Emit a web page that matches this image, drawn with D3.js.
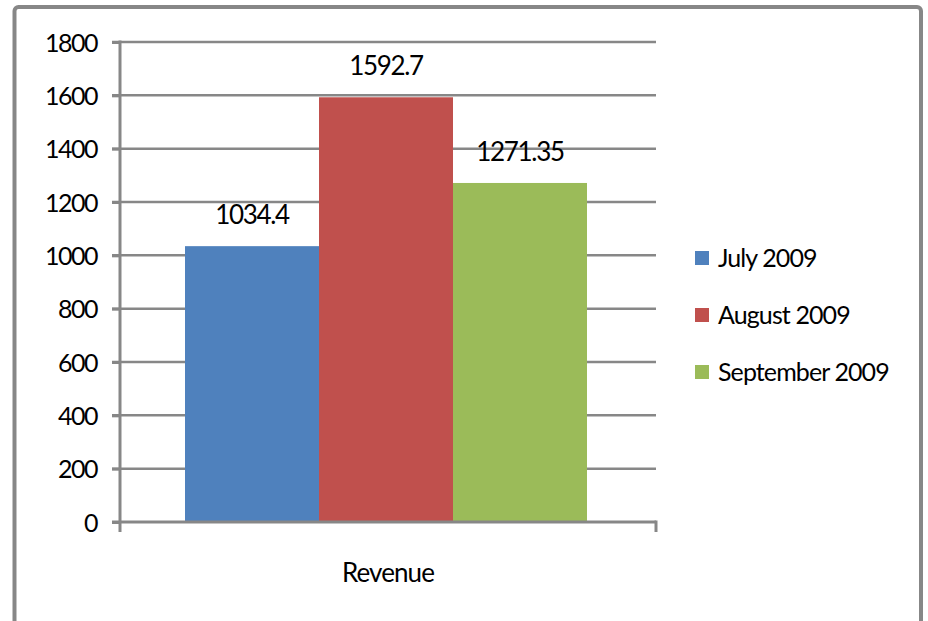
<!DOCTYPE html>
<html>
<head>
<meta charset="utf-8">
<script src="https://cdn.jsdelivr.net/npm/d3@7"></script>
<style>
  body { margin: 0; background: #fff; }
  text { font-family: Lato, "Open Sans", sans-serif; fill: #000; }
</style>
</head>
<body>
<div id="chart"></div>
<script>
// values
const categories = ['Revenue'];
const seriesNames = ['July 2009', 'August 2009', 'September 2009'];
const seriesValues = [1034.4, 1592.7, 1271.35];
const seriesLabels = ['1034.4', '1592.7', '1271.35'];
const yTicks = [0, 200, 400, 600, 800, 1000, 1200, 1400, 1600, 1800];
const colors = ['#4f81bd', '#c0504d', '#9bbb59'];

const width = 928, height = 621;
const margin = {top: 42, right: 272, bottom: 99, left: 120};
const grey = '#878787';

const svg = d3.select('#chart').append('svg')
  .attr('width', width)
  .attr('height', height);

// outer chart frame (runs past the bottom of the picture)
svg.append('rect')
  .attr('x', 14.5).attr('y', 7)
  .attr('width', 906.5).attr('height', 700)
  .attr('rx', 4)
  .attr('fill', 'none')
  .attr('stroke', grey)
  .attr('stroke-width', 4);

const x0 = margin.left, x1 = width - margin.right;
const yScale = d3.scaleLinear()
  .domain([0, 1800])
  .range([height - margin.bottom, margin.top]);

// bars sit 2px left of an even split, as in the picture
const xScale = d3.scaleBand()
  .domain(seriesNames)
  .range([x0 - 2, x1 - 2])
  .paddingInner(0)
  .paddingOuter(0.5);

// gridlines
svg.append('g')
  .selectAll('line')
  .data(yTicks.slice(1))
  .join('line')
    .attr('x1', x0 - 8).attr('x2', x1)
    .attr('y1', d => yScale(d)).attr('y2', d => yScale(d))
    .attr('stroke', grey)
    .attr('stroke-width', 2.5);

// bars
svg.append('g')
  .selectAll('rect')
  .data(seriesValues)
  .join('rect')
    .attr('x', (d, i) => xScale(seriesNames[i]))
    .attr('y', d => yScale(d))
    .attr('width', xScale.bandwidth())
    .attr('height', d => yScale(0) - yScale(d))
    .attr('fill', (d, i) => colors[i]);

// value labels
svg.append('g')
  .selectAll('text')
  .data(seriesValues)
  .join('text')
    .attr('x', (d, i) => xScale(seriesNames[i]) + xScale.bandwidth() / 2)
    .attr('y', d => yScale(d) - 22)
    .attr('text-anchor', 'middle')
    .attr('font-size', 26)
    .attr('letter-spacing', -1.3)
    .text((d, i) => seriesLabels[i]);

// y axis
const yAxis = svg.append('g')
  .attr('transform', `translate(${x0},0)`)
  .call(d3.axisLeft(yScale).tickValues(yTicks).tickSize(8).tickPadding(15).tickFormat(d3.format('d')));
yAxis.select('.domain').remove();
yAxis.selectAll('.tick line')
  .attr('stroke', grey).attr('stroke-width', 3);
yAxis.selectAll('.tick text')
  .attr('font-size', 25)
  .attr('letter-spacing', -1.5)
  .attr('dy', '0.36em')
  .style('font-family', 'Lato, sans-serif');

// axis lines
svg.append('line')
  .attr('x1', x0).attr('x2', x0)
  .attr('y1', margin.top - 1.5).attr('y2', yScale(0) + 10)
  .attr('stroke', grey).attr('stroke-width', 3);
svg.append('line')
  .attr('x1', x0 - 8).attr('x2', x1)
  .attr('y1', yScale(0)).attr('y2', yScale(0))
  .attr('stroke', grey).attr('stroke-width', 3);
svg.append('line')
  .attr('x1', x1).attr('x2', x1)
  .attr('y1', yScale(0) - 1.5).attr('y2', yScale(0) + 10)
  .attr('stroke', grey).attr('stroke-width', 3);

// category label
svg.append('text')
  .attr('x', (x0 + x1) / 2)
  .attr('y', 582)
  .attr('text-anchor', 'middle')
  .attr('font-size', 26)
  .attr('letter-spacing', -0.9)
  .text(categories[0]);

// legend
const legend = svg.append('g')
  .selectAll('g')
  .data(seriesNames)
  .join('g')
    .attr('transform', (d, i) => `translate(695,${258 + i * 57})`);
legend.append('rect')
  .attr('x', 0).attr('y', -7)
  .attr('width', 14).attr('height', 14)
  .attr('fill', (d, i) => colors[i]);
legend.append('text')
  .attr('x', 23)
  .attr('y', 0)
  .attr('dy', '0.36em')
  .attr('font-size', 25)
  .attr('letter-spacing', -0.9)
  .text(d => d);
</script>
</body>
</html>
